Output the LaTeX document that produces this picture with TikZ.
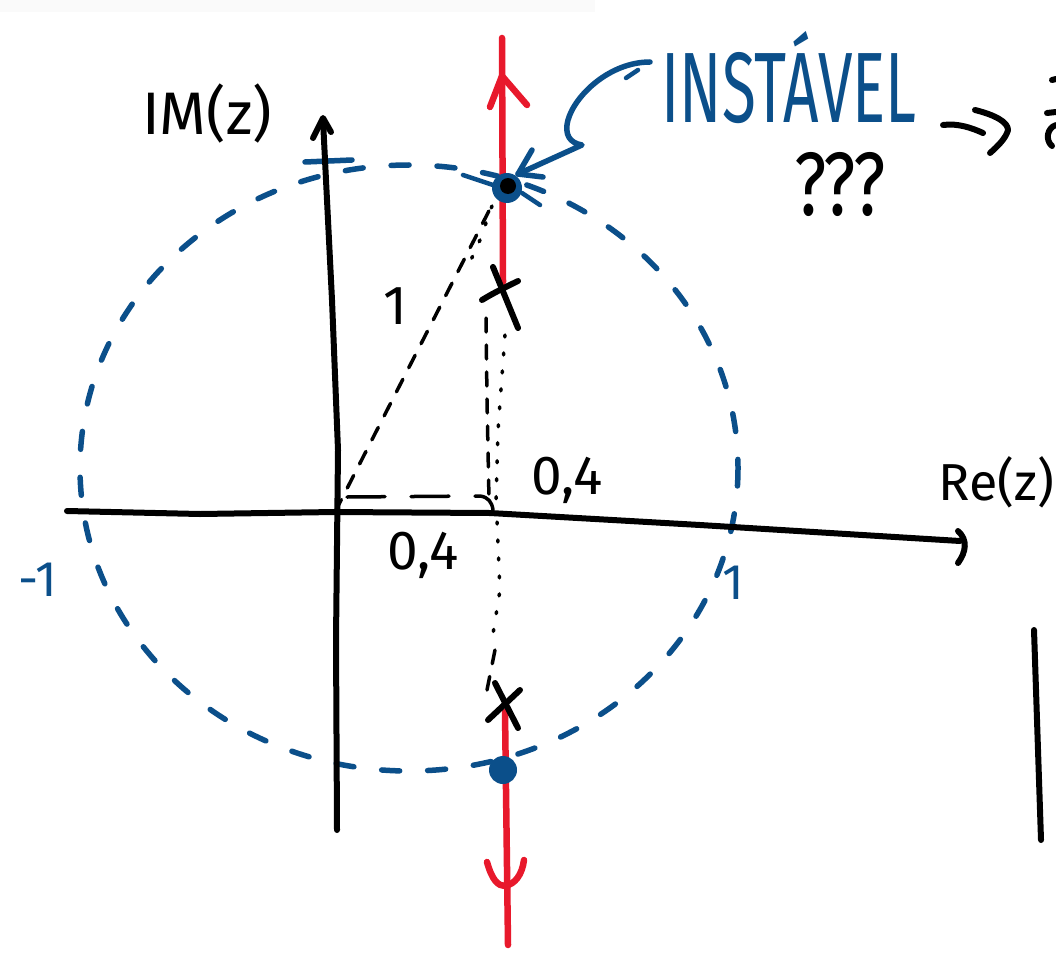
\documentclass[tikz,border=0pt]{standalone}
\usepackage{fontspec}
\setmainfont{Fira Sans}
\definecolor{pblue}{HTML}{0B4F8A}
\definecolor{pred}{HTML}{E8192C}
\begin{document}
\begin{tikzpicture}[x=1pt,y=-1pt,line cap=round,line join=round,
  ink/.style={line width=6pt,black},
  bink/.style={line width=5.5pt,pblue},
  rink/.style={line width=6.5pt,pred},
  thindash/.style={line width=3.5pt,black,dash pattern=on 14pt off 13pt},
  dotline/.style={line width=3.5pt,black,dash pattern=on 2pt off 16pt},
  lbl/.style={inner sep=0pt,anchor=center},
  hand/.style={lbl,font=\fontsize{55}{55}\selectfont}]
\useasboundingbox (0,0) rectangle (1056,952);
\fill[white] (0,0) rectangle (1056,952);
\fill[black!2] (0,0) rectangle (595,12);

% unit circle
\coordinate (C) at (409,468);
\draw[bink,dash pattern=on 18pt off 28pt] (C) ellipse [x radius=329,y radius=303];
\draw[bink] (305,162) -- (352,160);

% key points
\coordinate (O) at (335,512);
\coordinate (P1) at (507,188);
\coordinate (P2) at (503,770);

% red root locus
\coordinate (Rtop) at (502,38);
\coordinate (Rbot) at (508,945);
\draw[rink] (Rtop) -- (503,282);
\draw[rink] (505,712) -- (Rbot);
\draw[rink] (490,107) -- (502,76) -- (527,105);
\draw[rink] (487,862) .. controls (492,880) and (498,886) .. (505,886) .. controls (515,884) and (522,875) .. (524,860);

% axes
\draw[ink] (337,830) -- (336,640) -- (338,450) -- (332,300) -- (323,120);
\draw[ink] (313,138) -- (323,118) -- (331,132);
\draw[ink] (67,511) -- (200,514) -- (O) -- (490,513) -- (700,525) -- (960,541);
\draw[ink] (958,531) .. controls (968,540) and (966,552) .. (958,563);

% construction lines
\draw[thindash] (O) -- (493,203);
\draw[thindash,dash pattern=on 38pt off 26pt] (347,497) -- (480,496) .. controls (488,497) and (492,502) .. (493,510);
\draw[thindash] (486,318) -- (487,400) -- (489,500);
\draw[dotline] (505,335) -- (498,430) -- (496,505);
\draw[dotline] (497,522) -- (500,590) -- (492,640);
\draw[thindash] (495,650) -- (487,690);
\draw[dotline] (492,206) -- (480,240) -- (470,262);

% poles (x marks)
\draw[ink] (493,267) -- (518,328);
\draw[ink] (482,300) .. controls (495,292) and (508,286) .. (518,281);
\draw[ink] (495,683) -- (518,728);
\draw[ink] (488,720) -- (520,690);

% closed-loop poles on the circle
\fill[pblue] (P1) circle[radius=15];
\fill[black] (508,186) circle[radius=8];
\draw[bink,line width=4.5pt] (463,175) -- (493,185);
\draw[bink,line width=4.5pt] (522,193) -- (540,205);
\fill[pblue] (P2) circle[radius=14];

% annotation arrow
\node[lbl,pblue] (inst) at (789,78) {\fontsize{100}{100}\selectfont\scalebox{0.62}[1]{INSTÁVEL}};
\draw[bink] (650,62) .. controls (610,62) and (575,95) .. (568,120) .. controls (564,135) and (570,143) .. (582,145) -- (518,174);
\draw[bink] (532,150) -- (518,174) -- (543,177);
\draw[bink,line width=4.5pt] (626,78) -- (638,70);
\node[lbl] (q) at (840,184) {\fontsize{90}{90}\selectfont\scalebox{0.78}[1]{???}};

% arrow to the right (cut off)
\coordinate (A1) at (943,125);
\coordinate (A2) at (983,133);
\draw[ink] (A1) .. controls (958,123) and (972,128) .. (A2);
\draw[ink] (975,110) .. controls (995,115) and (1008,122) .. (1008,130) .. controls (1006,138) and (998,146) .. (990,153);
\draw[ink] (1052,80) -- (1056,79);
\draw[ink] (1047,113) -- (1056,112);
\draw[ink] (1056,125) .. controls (1047,128) and (1045,140) .. (1052,146);

% right vertical stroke
\draw[ink] (1034,630) -- (1037,720) -- (1041,840);

% labels
\node[hand,font=\fontsize{60}{60}\selectfont] (im) at (207,114) {IM(z)};
\node[hand,anchor=east,font=\fontsize{52}{52}\selectfont] (re) at (1054,482) {Re(z)};
\node[hand] (l04a) at (567,480) {0,4};
\node[hand] (l04b) at (423,555) {0,4};
\node[hand] (l1) at (395,306) {1};
\node[hand,pblue,font=\fontsize{50}{50}\selectfont] (m1) at (38,580) {-1};
\node[hand,pblue,font=\fontsize{50}{50}\selectfont] (p1) at (733,583) {1};
\end{tikzpicture}
\end{document}
